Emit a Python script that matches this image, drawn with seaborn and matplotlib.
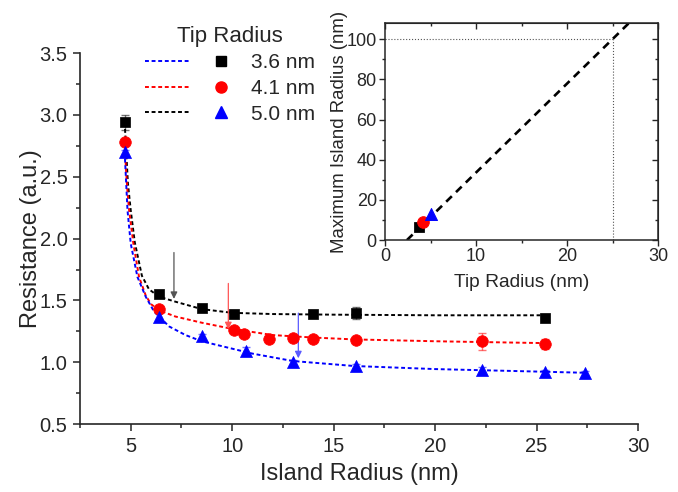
import seaborn as sns
import matplotlib.pyplot as plt
from matplotlib.lines import Line2D
from matplotlib.ticker import MultipleLocator

sns.set_style("ticks")
plt.rcParams['font.family'] = ['Liberation Sans', 'DejaVu Sans']

# measured points (island radius in nm, resistance a.u.)
r36_x = [4.7, 6.4, 8.5, 10.1, 14.0, 16.1, 25.4]
r36_y = [2.94, 1.55, 1.44, 1.39, 1.39, 1.40, 1.36]
r36_err = [0.06, 0.02, 0.02, 0.02, 0.02, 0.05, 0.01]

r41_x = [4.7, 6.4, 10.1, 10.6, 11.8, 13.0, 14.0, 16.1, 22.3, 25.4]
r41_y = [2.78, 1.43, 1.26, 1.23, 1.19, 1.20, 1.19, 1.18, 1.17, 1.15]
r41_err = [0.02, 0.02, 0.01, 0.01, 0.01, 0.01, 0.01, 0.01, 0.07, 0.04]

r50_x = [4.7, 6.4, 8.5, 10.7, 13.0, 16.1, 22.3, 25.4, 27.4]
r50_y = [2.70, 1.37, 1.21, 1.09, 1.00, 0.97, 0.94, 0.92, 0.91]
r50_err = [0.02, 0.03, 0.02, 0.03, 0.02, 0.02, 0.02, 0.02, 0.02]

# fitted curves
fit36_x = [4.7, 4.78, 4.86, 5.0, 5.2, 5.55, 5.9, 6.4, 7.2, 8.5, 10, 12, 15, 20, 25.4]
fit36_y = [2.94, 2.70, 2.45, 2.23, 1.97, 1.70, 1.59, 1.53, 1.49, 1.43, 1.40, 1.39, 1.385, 1.38, 1.38]

fit41_x = [4.7, 4.77, 4.84, 4.92, 5.13, 5.41, 5.74, 6.0, 6.4, 7.2, 8.5, 10, 12, 14, 16, 20, 25.4]
fit41_y = [2.78, 2.55, 2.38, 2.23, 1.96, 1.69, 1.54, 1.47, 1.42, 1.37, 1.32, 1.27, 1.22, 1.20, 1.185, 1.17, 1.155]

fit50_x = [4.7, 4.76, 4.84, 5.0, 5.33, 5.74, 6.15, 6.4, 6.89, 7.7, 8.5, 10, 11, 13, 16, 20, 25, 27.4]
fit50_y = [2.70, 2.50, 2.23, 1.96, 1.69, 1.53, 1.41, 1.37, 1.29, 1.22, 1.17, 1.11, 1.07, 1.01, 0.97, 0.945, 0.925, 0.915]

# arrows marking the maximum island radius
arrow_x = [7.13, 9.81, 13.26]
arrow_top = [1.91, 1.66, 1.42]
arrow_tip = [1.49, 1.245, 1.01]
arrow_col = ['#555555', '#ff5555', '#5a5aff']

# inset: max island radius vs tip radius
tip = [3.7, 4.2, 5.1]
max_r = [6.3, 9.0, 12.8]
lin_x = [2.4, 26.8]
lin_y = [0, 108]

labels = ['3.6 nm', '4.1 nm', '5.0 nm']
colors = ['black', 'red', 'blue']
markers = ['s', 'o', '^']
sizes = [48, 70, 75]

fig = plt.figure(figsize=(6.78, 4.92), dpi=100)
ax = fig.add_axes([0.118, 0.138, 0.823, 0.754])

series = [(r36_x, r36_y, r36_err, fit36_x, fit36_y),
          (r41_x, r41_y, r41_err, fit41_x, fit41_y),
          (r50_x, r50_y, r50_err, fit50_x, fit50_y)]

dash = (0, (2.0, 1.4))
for (x, y, e, fx, fy), c, m, s in zip(series, colors, markers, sizes):
    sns.lineplot(x=fx, y=fy, ax=ax, color=c, lw=1.4, linestyle=dash, sort=False)
    ax.errorbar(x, y, yerr=e, fmt='none', ecolor=c, alpha=0.55, capsize=3, elinewidth=1, zorder=3)
    sns.scatterplot(x=x, y=y, ax=ax, color=c, marker=m, s=s, edgecolor=c, linewidth=0.5, zorder=4)

for xa, yt, yb, c in zip(arrow_x, arrow_top, arrow_tip, arrow_col):
    ax.annotate('', xy=(xa, yb), xytext=(xa, yt),
                arrowprops=dict(arrowstyle='-|>', color=c, lw=0.9, mutation_scale=10))

ax.set_xlim(2.5, 30)
ax.set_ylim(0.5, 3.5)
ax.xaxis.set_major_locator(MultipleLocator(5))
ax.xaxis.set_minor_locator(MultipleLocator(2.5))
ax.yaxis.set_minor_locator(MultipleLocator(0.25))
ax.set_yticks([0.5, 1.0, 1.5, 2.0, 2.5, 3.0, 3.5])
ax.set_yticklabels(['0.5', '1.0', '1.5', '2.0', '2.5', '3.0', '3.5'])
ax.tick_params(which='major', length=5, width=1.1, labelsize=14.5, pad=4)
ax.tick_params(which='minor', length=3, width=1.1)
for sp in ['left', 'bottom']:
    ax.spines[sp].set_linewidth(1.2)
sns.despine(ax=ax)
ax.set_xlabel('Island Radius (nm)', fontsize=17, labelpad=5)
ax.set_ylabel('Resistance (a.u.)', fontsize=17, labelpad=-2)

# legend: dashed-line column, then marker column with labels
line_h = [Line2D([], [], color=c, lw=1.4, linestyle=dash) for c in ['blue', 'red', 'black']]
mark_h = [Line2D([], [], color=c, marker=m, linestyle='none', markersize=ms)
          for c, m, ms in zip(colors, markers, [6.5, 8, 8.5])]
leg = ax.legend(line_h + mark_h, ['', '', ''] + labels, ncol=2, title='Tip Radius',
                frameon=False, fontsize=15, title_fontsize=16, handlelength=2.16,
                handletextpad=0.33, columnspacing=0.08, labelspacing=0.32,
                loc='upper left', bbox_to_anchor=(0.202, 0.965),
                bbox_transform=fig.transFigure, borderaxespad=0)

# inset
ax2 = fig.add_axes([0.568, 0.512, 0.4025, 0.441])
ax2.set_facecolor('white')
ax2.plot([0, 25], [100, 100], color='#555555', lw=0.8, linestyle=':')
ax2.plot([25, 25], [0, 100], color='#555555', lw=0.8, linestyle=':')
sns.lineplot(x=lin_x, y=lin_y, ax=ax2, color='black', lw=1.9, linestyle=(0, (3, 2.2)))
for xv, yv, c, m, s in zip(tip, max_r, colors, markers, sizes):
    sns.scatterplot(x=[xv], y=[yv], ax=ax2, color=c, marker=m, s=s, edgecolor=c, zorder=4)
ax2.set_xlim(0, 30)
ax2.set_ylim(0, 108)
ax2.xaxis.set_major_locator(MultipleLocator(10))
ax2.xaxis.set_minor_locator(MultipleLocator(5))
ax2.yaxis.set_major_locator(MultipleLocator(20))
ax2.yaxis.set_minor_locator(MultipleLocator(10))
ax2.tick_params(which='major', length=4, width=1, labelsize=13, pad=2)
ax2.tick_params(which='minor', length=2.5, width=1)
for sp in ax2.spines.values():
    sp.set_linewidth(1.1)
top = ax2.secondary_xaxis('top')
top.xaxis.set_major_locator(MultipleLocator(10))
top.xaxis.set_minor_locator(MultipleLocator(5))
top.tick_params(which='both', direction='in', labeltop=False, width=1)
top.tick_params(which='major', length=4)
top.tick_params(which='minor', length=2.5)
right = ax2.secondary_yaxis('right')
right.yaxis.set_major_locator(MultipleLocator(20))
right.yaxis.set_minor_locator(MultipleLocator(10))
right.tick_params(which='both', direction='in', labelright=False, width=1)
right.tick_params(which='major', length=4)
right.tick_params(which='minor', length=2.5)
ax2.set_xlabel('Tip Radius (nm)', fontsize=13.8, labelpad=6.5)
ax2.set_ylabel('Maximum Island Radius (nm)', fontsize=13.4, labelpad=-1)

fig.savefig('out.png', dpi=100)
